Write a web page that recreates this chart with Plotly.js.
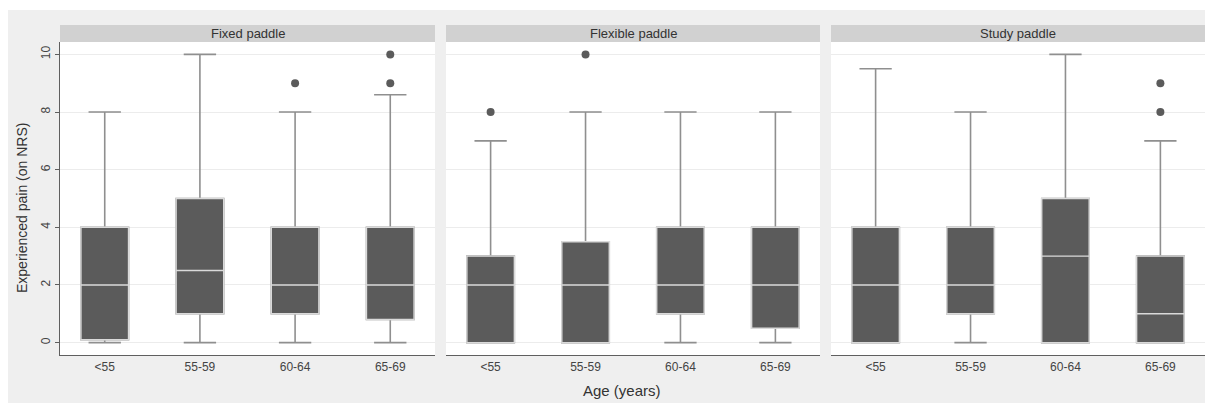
<!DOCTYPE html>
<html>
<head>
<meta charset="utf-8">
<script src="https://cdn.plot.ly/plotly-3.0.1.min.js"></script>
<style>html,body{margin:0;padding:0;background:#fff;}#chart{width:1205px;height:403px;}</style>
</head>
<body>
<div id="chart"></div>
<script>
// ---- data ----
const categories = ['<55', '55-59', '60-64', '65-69'];
const panelTitles = ['Fixed paddle', 'Flexible paddle', 'Study paddle'];

const fixedLow   = [0, 0, 0, 0];
const fixedQ1    = [0.1, 1, 1, 0.8];
const fixedMed   = [2, 2.5, 2, 2];
const fixedQ3    = [4, 5, 4, 4];
const fixedHigh  = [8, 10, 8, 8.6];
const fixedOutX  = ['60-64', '65-69', '65-69'];
const fixedOutY  = [9, 9, 10];

const flexLow    = [0, 0, 0, 0];
const flexQ1     = [0, 0, 1, 0.5];
const flexMed    = [2, 2, 2, 2];
const flexQ3     = [3, 3.5, 4, 4];
const flexHigh   = [7, 8, 8, 8];
const flexOutX   = ['<55', '55-59'];
const flexOutY   = [8, 10];

const studyLow   = [0, 0, 0, 0];
const studyQ1    = [0, 1, 0, 0];
const studyMed   = [2, 2, 3, 1];
const studyQ3    = [4, 4, 5, 3];
const studyHigh  = [9.5, 8, 10, 7];
const studyOutX  = ['65-69', '65-69'];
const studyOutY  = [8, 9];

const yTicks = [0, 2, 4, 6, 8, 10];

// ---- build ----
const panels = [
  {low: fixedLow, q1: fixedQ1, med: fixedMed, q3: fixedQ3, high: fixedHigh, ox: fixedOutX, oy: fixedOutY},
  {low: flexLow, q1: flexQ1, med: flexMed, q3: flexQ3, high: flexHigh, ox: flexOutX, oy: flexOutY},
  {low: studyLow, q1: studyQ1, med: studyMed, q3: studyQ3, high: studyHigh, ox: studyOutX, oy: studyOutY}
];
const xNames = ['x', 'x2', 'x3'];
const traces = [];
panels.forEach((p, i) => {
  // whiskers
  traces.push({
    type: 'box', xaxis: xNames[i], yaxis: 'y',
    x: categories, q1: p.q1, median: p.med, q3: p.q3,
    lowerfence: p.low, upperfence: p.high,
    width: 0.5, whiskerwidth: 0.68,
    line: {color: '#8f8f8f', width: 1.6},
    fillcolor: '#5b5b5b', boxpoints: false, showlegend: false, hoverinfo: 'skip'
  });
  // box body + median
  traces.push({
    type: 'box', xaxis: xNames[i], yaxis: 'y',
    x: categories, q1: p.q1, median: p.med, q3: p.q3,
    lowerfence: p.q1, upperfence: p.q3,
    width: 0.5, whiskerwidth: 0,
    line: {color: '#dadada', width: 1.4},
    fillcolor: '#5b5b5b', boxpoints: false, showlegend: false, hoverinfo: 'skip'
  });
  // outliers
  traces.push({
    type: 'scatter', mode: 'markers', xaxis: xNames[i], yaxis: 'y',
    x: p.ox, y: p.oy,
    marker: {color: '#5b5b5b', size: 8},
    showlegend: false, hoverinfo: 'skip'
  });
});

const font = 'Arial, "Liberation Sans", sans-serif';
const xRange = [-0.47, 3.47];
function xAxis(domain) {
  return {
    domain: domain, type: 'category', categoryarray: categories, categoryorder: 'array',
    range: xRange, showgrid: false, zeroline: false,
    showline: true, linecolor: '#5f5f5f', linewidth: 1.3,
    ticks: '', tickfont: {family: font, size: 12, color: '#444'},
    anchor: 'y', fixedrange: true
  };
}
const d1 = [0, 375 / 1145], d2 = [386 / 1145, 760 / 1145], d3 = [771 / 1145, 1];

const shapes = [];
['x domain', 'x2 domain', 'x3 domain'].forEach((xr) => {
  shapes.push({type: 'rect', xref: xr, yref: 'paper', x0: 0, x1: 1, y0: 1, y1: 1 + 17 / 313,
    fillcolor: '#d1d1d1', line: {width: 0}, layer: 'above'});
});
// white strips at top and left of the figure
shapes.push({type: 'rect', xref: 'paper', yref: 'paper', x0: -60 / 1145, x1: 1, y0: 1 + 32 / 313, y1: 1 + 42 / 313,
  fillcolor: '#ffffff', line: {width: 0}, layer: 'above'});
shapes.push({type: 'rect', xref: 'paper', yref: 'paper', x0: -60 / 1145, x1: -52 / 1145, y0: -48 / 313, y1: 1 + 42 / 313,
  fillcolor: '#ffffff', line: {width: 0}, layer: 'above'});

const annotations = [];
['x domain', 'x2 domain', 'x3 domain'].forEach((xr, i) => {
  annotations.push({xref: xr, yref: 'paper', x: 0.5, y: 1 + 8.5 / 313, text: panelTitles[i],
    showarrow: false, xanchor: 'center', yanchor: 'middle',
    font: {family: font, size: 13, color: '#333'}});
});
annotations.push({xref: 'paper', yref: 'paper', x: (622 - 60) / 1145, y: -35 / 313, text: 'Age (years)',
  showarrow: false, xanchor: 'center', yanchor: 'middle', font: {family: font, size: 15, color: '#333'}});
annotations.push({xref: 'paper', yref: 'paper', x: -38 / 1145, y: (355 - 208) / 313, text: 'Experienced pain (on NRS)',
  textangle: -90, showarrow: false, xanchor: 'center', yanchor: 'middle', font: {family: font, size: 14, color: '#333'}});

const layout = {
  width: 1205, height: 403,
  margin: {l: 60, r: 0, t: 42, b: 48, pad: 0},
  paper_bgcolor: '#efefef', plot_bgcolor: '#ffffff',
  boxmode: 'overlay', showlegend: false,
  xaxis: xAxis(d1), xaxis2: xAxis(d2), xaxis3: xAxis(d3),
  yaxis: {
    range: [-0.43, 10.43], tickvals: yTicks, ticktext: yTicks.map(String),
    tickangle: -90, ticks: 'outside', ticklen: 4, tickcolor: '#5f5f5f', tickwidth: 1,
    showline: true, linecolor: '#5f5f5f', linewidth: 1.3,
    showgrid: true, gridcolor: '#ececec', gridwidth: 1, zeroline: false,
    tickfont: {family: font, size: 12, color: '#444'}, anchor: 'x', fixedrange: true
  },
  shapes: shapes, annotations: annotations
};

Plotly.newPlot('chart', traces, layout, {displayModeBar: false, staticPlot: true});
</script>
</body>
</html>
